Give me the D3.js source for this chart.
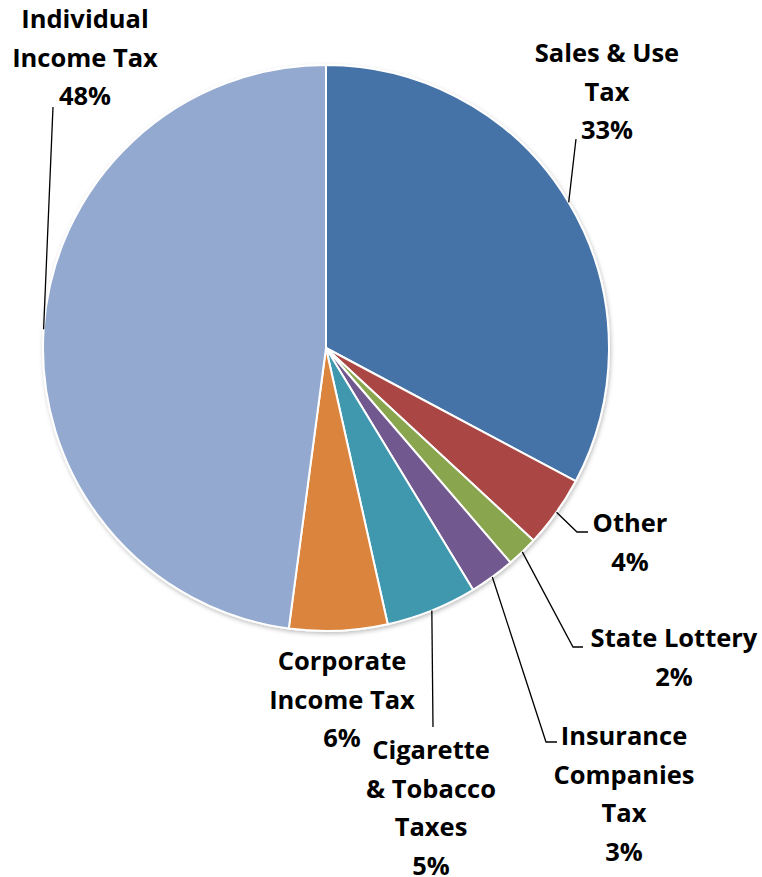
<!DOCTYPE html>
<html>
<head>
<meta charset="utf-8">
<script src="https://cdn.jsdelivr.net/npm/d3@7"></script>
<style>
  body { margin: 0; background: #fff; }
  svg { display: block; }
  .lbl { font-family: "Open Sans", Lato, sans-serif; font-weight: bold; font-size: 25.5px; fill: #000; }
</style>
</head>
<body>
<svg id="chart" width="762" height="877"></svg>
<script>
// revenue categories, clockwise from 12 o'clock
var categories = ["Sales & Use Tax", "Other", "State Lottery", "Insurance Companies Tax",
                  "Cigarette & Tobacco Taxes", "Corporate Income Tax", "Individual Income Tax"];
var shares = [32.8, 4.1, 1.8, 2.6, 5.2, 5.6, 47.9];
var colors = ["#4573a7", "#aa4644", "#89a54e", "#71588f", "#4198af", "#db843d", "#93a9cf"];
// how each label is broken into lines
var labelLines = [
    ["Sales & Use", "Tax"],
    ["Other"],
    ["State Lottery"],
    ["Insurance", "Companies", "Tax"],
    ["Cigarette", "& Tobacco", "Taxes"],
    ["Corporate", "Income Tax"],
    ["Individual", "Income Tax"]
];

// layout: label centre x, first baseline y, leader line bend points (after the arc point)
var labelLayout = [
    {x: 607, y: 62,  leader: [[576, 139]]},
    {x: 630, y: 532, leader: [[577, 532], [588, 532]]},
    {x: 674, y: 647, leader: [[573, 647], [583, 647]]},
    {x: 624, y: 745, leader: [[546, 742], [557, 742]]},
    {x: 431, y: 759, leader: [[433, 727]]},
    {x: 342, y: 670, leader: null},
    {x: 85,  y: 28,  leader: [[53, 107]]}
];

var cx = 326, cy = 348, radius = 283, lineH = 38.5;

var svg = d3.select("#chart");

var defs = svg.append("defs");
var f = defs.append("filter").attr("id", "shadow")
    .attr("x", "-10%").attr("y", "-10%").attr("width", "120%").attr("height", "120%");
f.append("feDropShadow").attr("dx", 1).attr("dy", 2).attr("stdDeviation", 2)
    .attr("flood-color", "#000").attr("flood-opacity", 0.25);

var data = categories.map(function(c, i) {
    return {name: c, value: shares[i], color: colors[i], lines: labelLines[i], layout: labelLayout[i]};
});
var total = d3.sum(shares);

var pie = d3.pie().sort(null).value(function(d) { return d.value; });
var arc = d3.arc().innerRadius(0).outerRadius(radius);
var arcs = pie(data);

var g = svg.append("g").attr("transform", "translate(" + cx + "," + cy + ")");

g.append("g").attr("filter", "url(#shadow)")
  .selectAll("path")
  .data(arcs)
  .enter()
  .append("path")
    .attr("d", arc)
    .attr("fill", function(d) { return d.data.color; })
    .attr("stroke", "#fff")
    .attr("stroke-width", 2)
    .attr("stroke-linejoin", "round");

// leader lines
var line = d3.line();
arcs.forEach(function(d) {
    var lay = d.data.layout;
    if (!lay.leader) return;
    var mid = (d.startAngle + d.endAngle) / 2;
    var start = [cx + radius * Math.sin(mid), cy - radius * Math.cos(mid)];
    var pts = [start].concat(lay.leader);
    svg.append("path")
        .attr("d", line(pts))
        .attr("fill", "none")
        .attr("stroke", "#000")
        .attr("stroke-width", 1.3);
});

// labels
arcs.forEach(function(d) {
    var lay = d.data.layout;
    var pct = Math.round(d.data.value / total * 100) + "%";
    var lines = d.data.lines.concat([pct]);
    var t = svg.append("text")
        .attr("class", "lbl")
        .attr("text-anchor", "middle");
    lines.forEach(function(s, i) {
        t.append("tspan")
            .attr("x", lay.x)
            .attr("y", lay.y + i * lineH)
            .text(s);
    });
});
</script>
</body>
</html>
